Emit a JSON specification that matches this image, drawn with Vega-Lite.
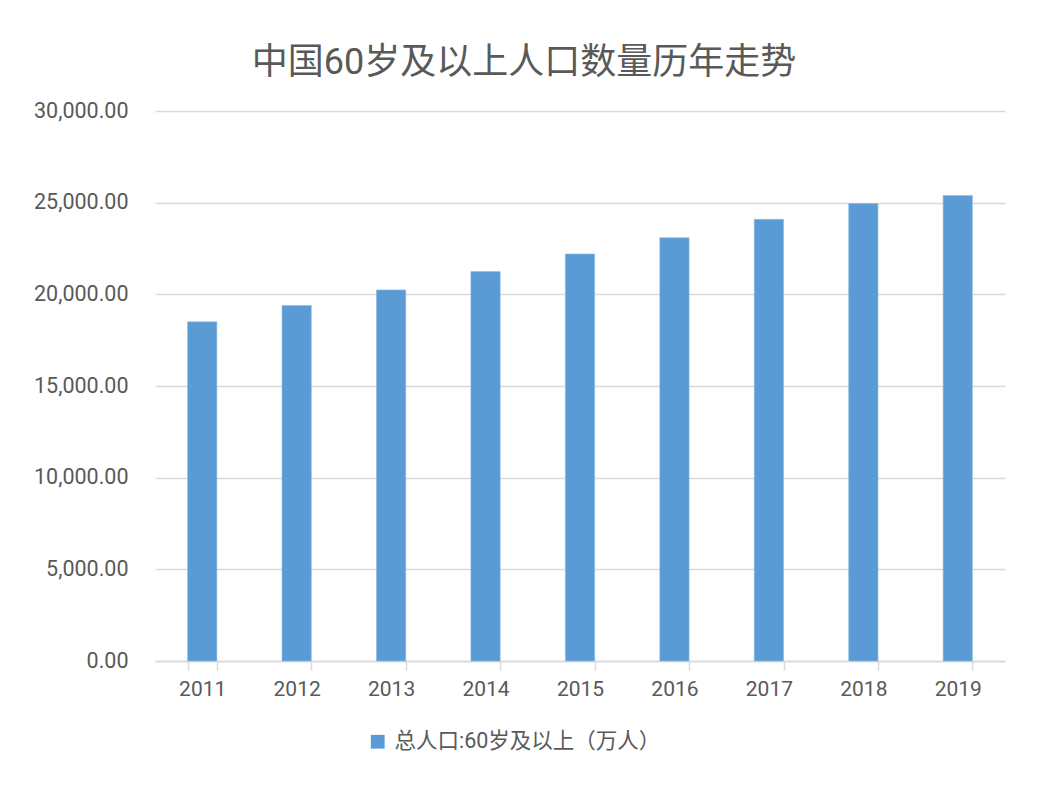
{
  "$schema": "https://vega.github.io/schema/vega-lite/v6.json",
  "width": 850,
  "height": 550,
  "autosize": {"type": "none"},
  "padding": {"left": 155, "top": 111, "right": 33, "bottom": 128},
  "background": "white",
  "title": {
    "text": "中国60岁及以上人口数量历年走势",
    "fontSize": 36,
    "fontWeight": "normal",
    "color": "#595959",
    "font": "Roboto, 'Noto Sans CJK SC'",
    "anchor": "middle",
    "frame": "group",
    "dx": -56,
    "offset": 18
  },
  "data": {
    "values": [
      {"year": "2011", "value": 18499, "series": "总人口:60岁及以上（万人）"},
      {"year": "2012", "value": 19390, "series": "总人口:60岁及以上（万人）"},
      {"year": "2013", "value": 20243, "series": "总人口:60岁及以上（万人）"},
      {"year": "2014", "value": 21242, "series": "总人口:60岁及以上（万人）"},
      {"year": "2015", "value": 22200, "series": "总人口:60岁及以上（万人）"},
      {"year": "2016", "value": 23086, "series": "总人口:60岁及以上（万人）"},
      {"year": "2017", "value": 24090, "series": "总人口:60岁及以上（万人）"},
      {"year": "2018", "value": 24949, "series": "总人口:60岁及以上（万人）"},
      {"year": "2019", "value": 25388, "series": "总人口:60岁及以上（万人）"}
    ]
  },
  "mark": {"type": "bar", "stroke": "#8dbbe3", "strokeWidth": 0.6},
  "encoding": {
    "x": {
      "field": "year",
      "type": "ordinal",
      "title": null,
      "scale": {"paddingInner": 0.69, "paddingOuter": 0.345},
      "axis": {
        "labelAngle": 0,
        "labelFontSize": 21,
        "labelColor": "#595959",
        "labelFont": "Roboto",
        "labelPadding": 8,
        "domainColor": "#d9d9d9",
        "domainWidth": 1.5,
        "tickColor": "#d9d9d9",
        "tickWidth": 1.5,
        "tickSize": 9,
        "tickBand": "extent",
        "grid": false
      }
    },
    "y": {
      "field": "value",
      "type": "quantitative",
      "title": null,
      "scale": {"domain": [0, 30000], "nice": false},
      "axis": {
        "values": [0, 5000, 10000, 15000, 20000, 25000, 30000],
        "format": ",.2f",
        "labelFontSize": 21.5,
        "labelColor": "#595959",
        "labelFont": "Roboto",
        "labelPadding": 27,
        "domain": false,
        "ticks": false,
        "gridColor": "#d9d9d9",
        "gridWidth": 1.5
      }
    },
    "color": {
      "field": "series",
      "type": "nominal",
      "scale": {"range": ["#5B9BD5"]},
      "legend": {
        "title": null,
        "orient": "none",
        "legendX": 212,
        "legendY": 620,
        "symbolType": "square",
        "symbolSize": 190,
        "symbolStrokeWidth": 0,
        "labelFontSize": 21.5,
        "labelColor": "#595959",
        "labelFont": "Roboto, 'Noto Sans CJK SC'",
        "labelOffset": 6,
        "labelLimit": 400
      }
    }
  },
  "config": {"view": {"stroke": null}}
}
